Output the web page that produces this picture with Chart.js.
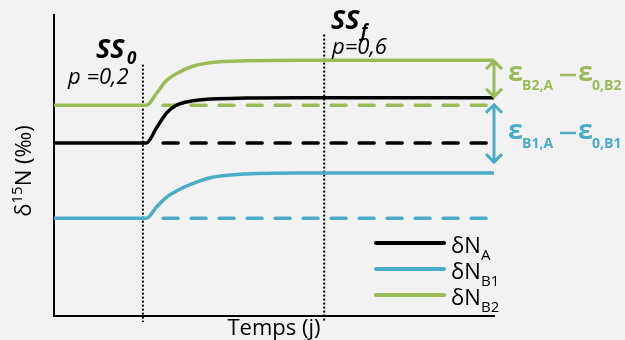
<!DOCTYPE html>
<html>
<head>
<meta charset="utf-8">
<script src="https://cdn.jsdelivr.net/npm/chart.js@4.4.1/dist/chart.umd.min.js"></script>
<style>
  html, body { margin: 0; padding: 0; background: #f2f2f2; }
  #wrap { width: 625px; height: 340px; }
</style>
</head>
<body>
<div id="wrap"><canvas id="chart" width="625" height="340"></canvas></div>
<script>
// time axis (days, arbitrary) and the three delta15N curves
const timeX = [0, 2.1, 2.33, 2.56, 2.78, 3.12, 3.58, 4.38, 5.5, 10];
const dNA  = [5.75, 5.75, 6.25, 6.75, 7.0, 7.14, 7.21, 7.24, 7.25, 7.25];
const dNB1 = [3.25, 3.25, 3.62, 3.95, 4.15, 4.38, 4.6, 4.72, 4.75, 4.75];
const dNB2 = [7.0, 7.0, 7.4, 7.83, 8.05, 8.28, 8.42, 8.48, 8.5, 8.5];

// initial levels kept as dashed lines
const dashX = [2.48, 9.84];
const baseA  = [5.75, 5.75];
const baseB1 = [3.25, 3.25];
const baseB2 = [7.0, 7.0];

// steady state markers
const ss0X = [2.02, 2.02];
const ss0Y = [8.35, -0.2];
const ssfX = [6.14, 6.14];
const ssfY = [9.35, -0.2];

// double arrows at the right end
const arrowX = 10;
const arrowB2 = [8.5, 7.25];
const arrowB1 = [7.05, 5.08];

const GREEN = '#9bbb59';
const BLUE = '#4bacc6';
const BLACK = '#000000';
const FONT = '"Open Sans", "Noto Sans", sans-serif';

const pts = (xs, ys) => xs.map((x, i) => ({ x: x, y: ys[i] }));

const solid = (label, ys, color) => ({
    label: label,
    data: pts(timeX, ys),
    borderColor: color,
    borderWidth: 3.5,
    pointRadius: 0,
    cubicInterpolationMode: 'monotone',
    fill: false,
    order: 1
});
const dashed = (ys, color) => ({
    data: pts(dashX, ys),
    borderColor: color,
    borderWidth: 3.5,
    borderDash: [15, 13],
    borderCapStyle: 'round',
    pointRadius: 0,
    fill: false,
    order: 3
});
const dotted = (xs, ys) => ({
    data: pts(xs, ys),
    borderColor: BLACK,
    borderWidth: 2,
    borderDash: [2, 2],
    pointRadius: 0,
    fill: false,
    clip: false,
    order: 4
});

// draw a run of text parts, each with its own font and x / baseline
function drawParts(ctx, parts, color) {
    ctx.fillStyle = color;
    ctx.textAlign = 'left';
    ctx.textBaseline = 'alphabetic';
    parts.forEach(p => {
        ctx.font = p.f;
        ctx.fillText(p.t, p.x, p.y);
    });
}

function drawArrow(ctx, x, y1, y2, color) {
    ctx.save();
    ctx.strokeStyle = color;
    ctx.lineWidth = 3;
    ctx.lineJoin = 'miter';
    ctx.beginPath();
    ctx.moveTo(x, y1 + 1);
    ctx.lineTo(x, y2 - 1);
    ctx.moveTo(x - 8, y1 + 9);
    ctx.lineTo(x, y1 + 1);
    ctx.lineTo(x + 8, y1 + 9);
    ctx.moveTo(x - 8, y2 - 9);
    ctx.lineTo(x, y2 - 1);
    ctx.lineTo(x + 8, y2 - 9);
    ctx.stroke();
    ctx.restore();
}

// the minus sign between the two epsilons is a short thick bar
function drawMinus(ctx, x, y, color) {
    ctx.save();
    ctx.strokeStyle = color;
    ctx.lineWidth = 2.5;
    ctx.beginPath();
    ctx.moveTo(x, y);
    ctx.lineTo(x + 16, y);
    ctx.stroke();
    ctx.restore();
}

const annotations = {
    id: 'annotations',
    beforeDraw(chart) {
        const ctx = chart.ctx;
        ctx.save();
        ctx.fillStyle = '#f2f2f2';
        ctx.fillRect(0, 0, chart.width, chart.height);
        ctx.restore();
    },
    afterDatasetsDraw(chart) {
        const ctx = chart.ctx;
        const xs = chart.scales.x, ys = chart.scales.y;
        const area = chart.chartArea;
        ctx.save();

        // arrows
        const ax = xs.getPixelForValue(arrowX);
        drawArrow(ctx, ax, ys.getPixelForValue(arrowB2[0]), ys.getPixelForValue(arrowB2[1]), GREEN);
        drawArrow(ctx, ax, ys.getPixelForValue(arrowB1[0]), ys.getPixelForValue(arrowB1[1]), BLUE);

        // epsilon labels
        const bigB = 'bold 27px ' + FONT, subB = 'bold 14px ' + FONT;
        drawParts(ctx, [
            { t: 'ε', f: bigB, x: 508, y: 81 },
            { t: 'B2,A', f: subB, x: 522, y: 90 },
            { t: 'ε', f: bigB, x: 578, y: 81 },
            { t: '0,B2', f: subB, x: 592, y: 90 }
        ], GREEN);
        drawMinus(ctx, 560, 75, GREEN);
        drawParts(ctx, [
            { t: 'ε', f: bigB, x: 508, y: 139 },
            { t: 'B1,A', f: subB, x: 522, y: 148 },
            { t: 'ε', f: bigB, x: 578, y: 139 },
            { t: '0,B1', f: subB, x: 592, y: 148 }
        ], BLUE);
        drawMinus(ctx, 560, 133, BLUE);

        // steady states
        drawParts(ctx, [
            { t: 'SS', f: 'italic bold 27px ' + FONT, x: 96, y: 58 },
            { t: '0', f: 'italic bold 17px ' + FONT, x: 127, y: 64 },
            { t: 'p =0,2', f: 'italic 22px ' + FONT, x: 68, y: 84 }
        ], BLACK);
        drawParts(ctx, [
            { t: 'SS', f: 'italic bold 27px ' + FONT, x: 331, y: 29 },
            { t: 'f', f: 'italic bold 17px ' + FONT, x: 361, y: 37 },
            { t: 'p=0,6', f: 'italic 22px ' + FONT, x: 332, y: 54 }
        ], BLACK);

        // legend
        const legend = [['A', BLACK], ['B1', BLUE], ['B2', GREEN]];
        legend.forEach((l, i) => {
            const y = 243 + i * 26;
            ctx.strokeStyle = l[1];
            ctx.lineWidth = 4;
            ctx.lineCap = 'round';
            ctx.beginPath();
            ctx.moveTo(376, y);
            ctx.lineTo(444, y);
            ctx.stroke();
            drawParts(ctx, [
                { t: 'δN', f: '22px ' + FONT, x: 451, y: y + 10 },
                { t: l[0], f: '15px ' + FONT, x: 481, y: y + 17 }
            ], BLACK);
        });

        // axis titles
        ctx.fillStyle = BLACK;
        ctx.font = '22px ' + FONT;
        ctx.textAlign = 'center';
        ctx.fillText('Temps (j)', (area.left + area.right) / 2, 335);

        ctx.translate(31, 171);
        ctx.rotate(-Math.PI / 2);
        const f1 = '22px ' + FONT, f2 = '15px ' + FONT;
        ctx.font = f1;
        const w1 = ctx.measureText('δ').width;
        const w3 = ctx.measureText('N (‰)').width;
        ctx.font = f2;
        const w2 = ctx.measureText('15').width;
        let x0 = -(w1 + w2 + w3) / 2;
        ctx.textAlign = 'left';
        ctx.font = f1; ctx.fillText('δ', x0, 0);
        ctx.font = f2; ctx.fillText('15', x0 + w1, -9);
        ctx.font = f1; ctx.fillText('N (‰)', x0 + w1 + w2, 0);

        ctx.restore();
    }
};

new Chart(document.getElementById('chart'), {
    type: 'line',
    data: {
        datasets: [
            solid('δNA', dNA, BLACK),
            solid('δNB1', dNB1, BLUE),
            solid('δNB2', dNB2, GREEN),
            dashed(baseA, BLACK),
            dashed(baseB1, BLUE),
            dashed(baseB2, GREEN),
            dotted(ss0X, ss0Y),
            dotted(ssfX, ssfY)
        ]
    },
    options: {
        responsive: false,
        animation: false,
        layout: { padding: { left: 46, right: 131, top: 15, bottom: 16 } },
        plugins: { legend: { display: false }, tooltip: { enabled: false } },
        scales: {
            x: {
                type: 'linear', min: 0, max: 10,
                grid: { display: false },
                ticks: { display: false },
                border: { display: true, color: BLACK, width: 2 }
            },
            y: {
                type: 'linear', min: 0, max: 10,
                grid: { display: false },
                ticks: { display: false },
                border: { display: true, color: BLACK, width: 2 }
            }
        }
    },
    plugins: [annotations]
});
</script>
</body>
</html>
